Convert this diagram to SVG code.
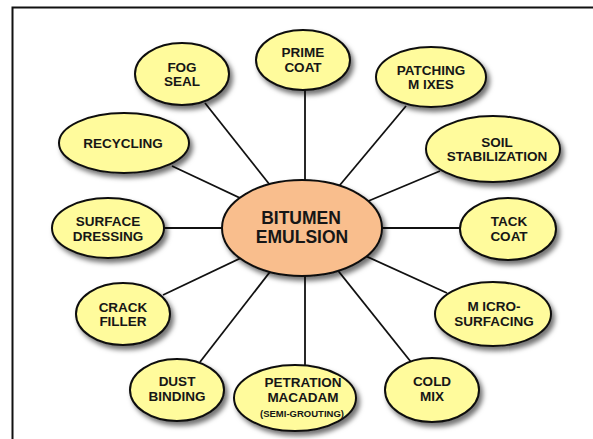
<svg xmlns="http://www.w3.org/2000/svg" width="593" height="439" viewBox="0 0 593 439">
<defs>
<filter id="sh" x="-20%" y="-20%" width="150%" height="160%">
<feDropShadow dx="3" dy="4" stdDeviation="2.5" flood-color="#000" flood-opacity="0.55"/>
</filter>
<style>
.n ellipse{fill:#FFFB9C;stroke:#111;stroke-width:2;filter:url(#sh)}
.c ellipse{fill:#F9BE8D;stroke:#111;stroke-width:2;filter:url(#sh)}
text{font-family:"Liberation Sans",Arial,sans-serif;font-weight:bold;fill:#161616;text-anchor:middle;font-size:13.5px}
.big{font-size:17.5px}
.sm{font-size:9.5px}
#connectors line{stroke:#111;stroke-width:1.8}
</style>
</defs>
<rect width="593" height="439" fill="#fff"/>
<path d="M12.5 439 V7.5 H593" fill="none" stroke="#111" stroke-width="2"/>
<g id="connectors">
<line x1="304" y1="228" x2="205" y2="103"/>
<line x1="304" y1="228" x2="172" y2="166"/>
<line x1="305" y1="228" x2="305" y2="88"/>
<line x1="304" y1="228" x2="406" y2="106"/>
<line x1="304" y1="228" x2="440" y2="171"/>
<line x1="304" y1="228" x2="462" y2="228"/>
<line x1="304" y1="228" x2="447" y2="293"/>
<line x1="304" y1="228" x2="411" y2="362"/>
<line x1="305" y1="228" x2="305" y2="366"/>
<line x1="304" y1="228" x2="200" y2="362"/>
<line x1="304" y1="228" x2="163" y2="295"/>
<line x1="304" y1="228" x2="163" y2="228"/>
</g>
<g id="bitumen-emulsion" class="c">
<ellipse cx="302" cy="228" rx="80" ry="48"/>
<text class="big" x="301" y="224">BITUMEN</text>
<text class="big" x="302" y="243">EMULSION</text>
</g>
<g id="fog-seal" class="n">
<ellipse cx="182" cy="74" rx="47" ry="31"/>
<text x="182" y="72">FOG</text>
<text x="182" y="86">SEAL</text>
</g>
<g id="prime-coat" class="n">
<ellipse cx="303" cy="60" rx="47" ry="30"/>
<text x="303" y="57">PRIME</text>
<text x="303" y="72">COAT</text>
</g>
<g id="patching-mixes" class="n">
<ellipse cx="431" cy="77" rx="55" ry="30"/>
<text x="431" y="75">PATCHING</text>
<text x="431" y="89">M IXES</text>
</g>
<g id="recycling" class="n">
<ellipse cx="124" cy="143" rx="65" ry="30"/>
<text x="123" y="148">RECYCLING</text>
</g>
<g id="soil-stabilization" class="n">
<ellipse cx="493" cy="149" rx="67" ry="33"/>
<text x="497" y="147">SOIL</text>
<text x="497" y="161">STABILIZATION</text>
</g>
<g id="surface-dressing" class="n">
<ellipse cx="108" cy="228" rx="56" ry="30"/>
<text x="108" y="226">SURFACE</text>
<text x="108" y="241">DRESSING</text>
</g>
<g id="tack-coat" class="n">
<ellipse cx="508" cy="229" rx="48" ry="31"/>
<text x="509" y="226">TACK</text>
<text x="509" y="241">COAT</text>
</g>
<g id="crack-filler" class="n">
<ellipse cx="123" cy="314" rx="47" ry="31"/>
<text x="123" y="312">CRACK</text>
<text x="123" y="326">FILLER</text>
</g>
<g id="micro-surfacing" class="n">
<ellipse cx="493" cy="314" rx="58" ry="32"/>
<text x="494" y="311">M ICRO-</text>
<text x="494" y="326">SURFACING</text>
</g>
<g id="dust-binding" class="n">
<ellipse cx="177" cy="390" rx="47" ry="31"/>
<text x="177" y="386">DUST</text>
<text x="177" y="401">BINDING</text>
</g>
<g id="petration-macadam" class="n">
<ellipse cx="295" cy="398" rx="61" ry="33"/>
<text x="303" y="387">PETRATION</text>
<text x="303" y="402">MACADAM</text>
<text class="sm" x="302" y="417">(SEMI-GROUTING)</text>
</g>
<g id="cold-mix" class="n">
<ellipse cx="432" cy="390" rx="47" ry="32"/>
<text x="432" y="386">COLD</text>
<text x="432" y="401">MIX</text>
</g>
</svg>
